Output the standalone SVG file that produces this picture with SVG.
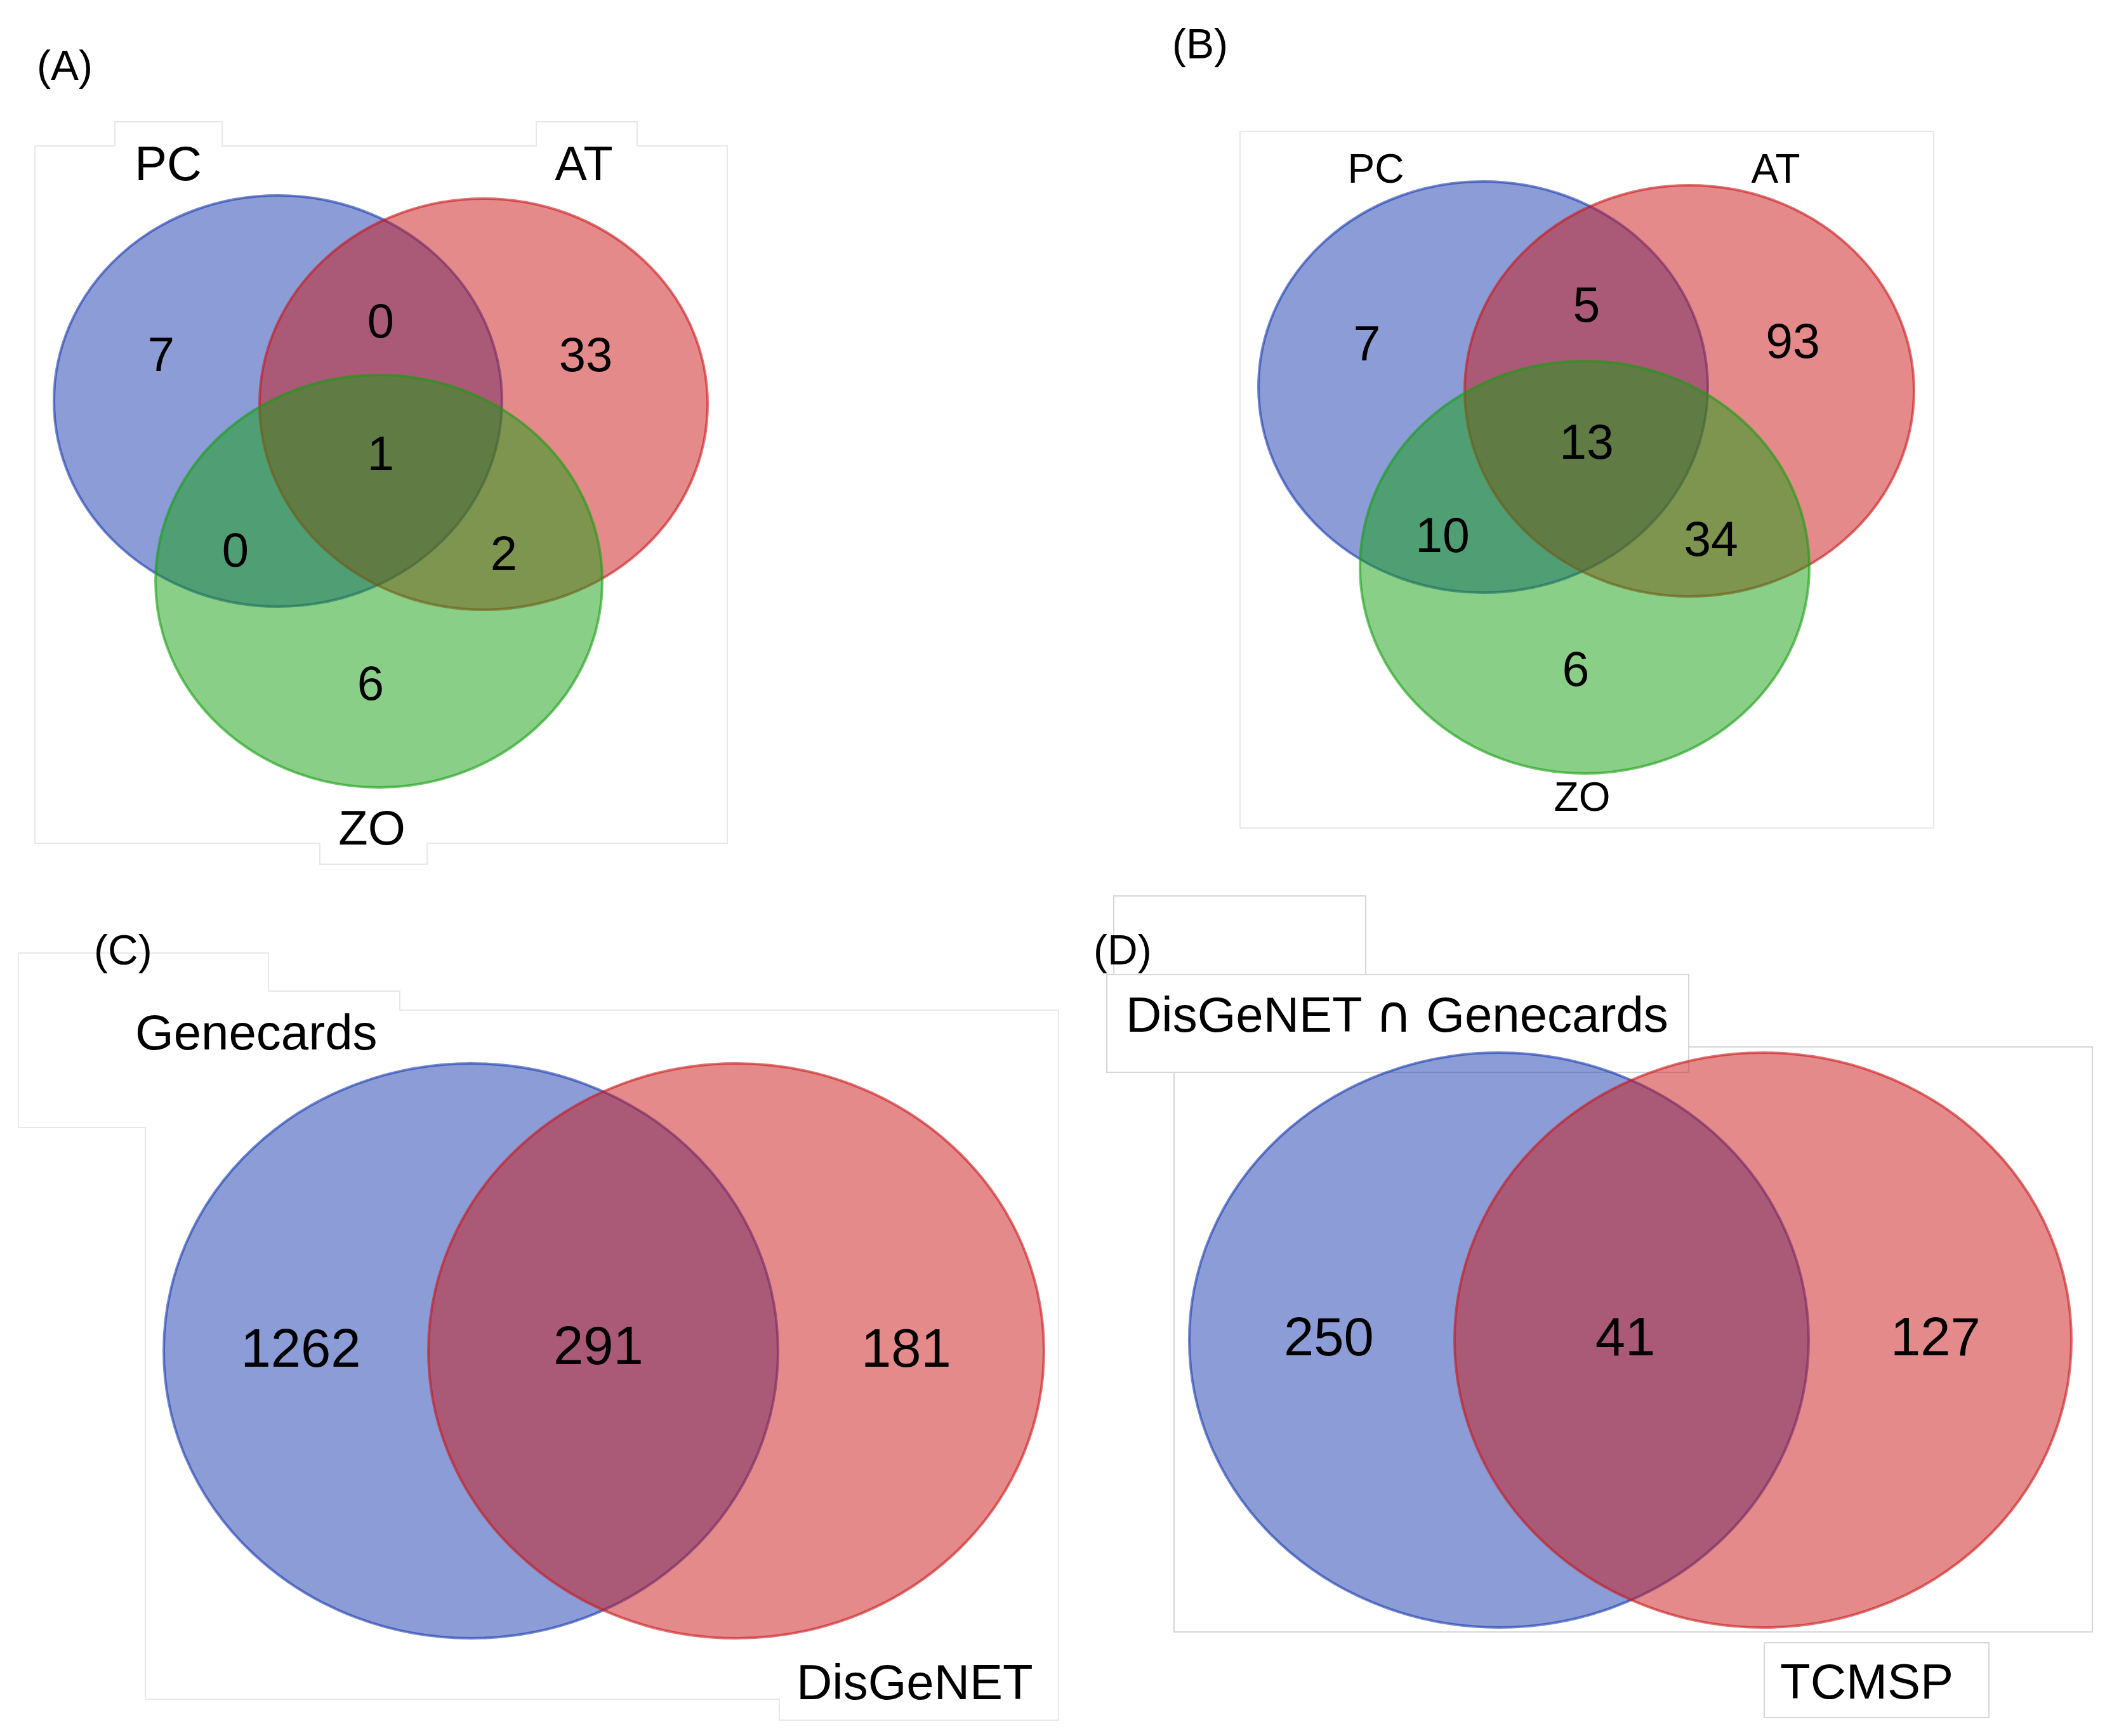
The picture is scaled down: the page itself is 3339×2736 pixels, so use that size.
<svg xmlns="http://www.w3.org/2000/svg" width="3339" height="2736" viewBox="0 0 3339 2736">
<style>
text{font-family:"Liberation Sans",Arial,sans-serif;fill:#000}
.frame{fill:none;stroke:#d6d6d6;stroke-width:2}
.faint{stroke:#e8e8e8}
.b{fill:#1739ad;fill-opacity:.5;stroke:#1739ad;stroke-opacity:.6;stroke-width:4}
.r{fill:#c91517;fill-opacity:.5;stroke:#c91517;stroke-opacity:.6;stroke-width:4}
.g{fill:#159f11;fill-opacity:.5;stroke:#159f11;stroke-opacity:.6;stroke-width:4}
.tag{font-size:66px}
.na{font-size:76px;text-anchor:middle}
.nb{font-size:77px;text-anchor:middle}
.nc{font-size:85px;text-anchor:middle}
.la{font-size:76px;text-anchor:middle}
.lb{font-size:64px;text-anchor:middle}
.lc{font-size:78px}
</style>
<rect width="3339" height="2736" fill="#fff"/>
<g id="frames">
<path class="frame faint" d="M55,230 H181 V192 H350 V230 H845 V192 H1004 V230 H1146 V1329 H673 V1362 H504 V1329 H55 Z"/>
<rect class="frame faint" x="1954" y="207" width="1093" height="1098"/>
<path class="frame faint" d="M29,1502 H423 V1562 H630 V1592 H1668 V2711 H1228 V2678 H229 V1777 H29 Z"/>
<path class="frame" d="M1755,1536 V1412 H2152 V1536"/>
<rect class="frame" x="1744" y="1536" width="917" height="154"/>
<path class="frame" d="M2661,1650 H3297 V2572 H1850 V1690"/>
<rect class="frame" x="2780" y="2589" width="354" height="118"/>
</g>
<g id="panelA">
<text class="tag" x="58" y="126">(A)</text>
<g id="A-PC"><ellipse class="b" cx="438" cy="632" rx="353" ry="324"/></g>
<g id="A-AT"><ellipse class="r" cx="762" cy="637" rx="353" ry="324"/></g>
<g id="A-ZO"><ellipse class="g" cx="597" cy="916" rx="352" ry="325"/></g>
<text class="la" x="265" y="284">PC</text>
<text class="la" x="920" y="284">AT</text>
<text class="la" x="586" y="1331">ZO</text>
<text class="na" x="254" y="585">7</text>
<text class="na" x="600" y="532">0</text>
<text class="na" x="923" y="585">33</text>
<text class="na" x="600" y="741">1</text>
<text class="na" x="371" y="893">0</text>
<text class="na" x="794" y="898">2</text>
<text class="na" x="584" y="1103">6</text>
</g>
<g id="panelB">
<text class="tag" x="1847" y="92">(B)</text>
<g id="B-PC"><ellipse class="b" cx="2337" cy="610" rx="354" ry="324"/></g>
<g id="B-AT"><ellipse class="r" cx="2662" cy="616" rx="354" ry="324"/></g>
<g id="B-ZO"><ellipse class="g" cx="2497" cy="894" rx="354" ry="325"/></g>
<text class="lb" x="2168" y="288">PC</text>
<text class="lb" x="2798" y="288">AT</text>
<text class="lb" x="2493" y="1278">ZO</text>
<text class="nb" x="2154" y="568">7</text>
<text class="nb" x="2500" y="507">5</text>
<text class="nb" x="2825" y="564">93</text>
<text class="nb" x="2500" y="723">13</text>
<text class="nb" x="2273" y="870">10</text>
<text class="nb" x="2696" y="876">34</text>
<text class="nb" x="2483" y="1081">6</text>
</g>
<g id="panelC">
<text class="tag" x="148" y="1520">(C)</text>
<g id="C-Genecards"><ellipse class="b" cx="742" cy="2129" rx="484" ry="453"/></g>
<g id="C-DisGeNET"><ellipse class="r" cx="1160" cy="2129" rx="485" ry="453"/></g>
<text class="lc" x="213" y="1654">Genecards</text>
<text class="lc" x="1255" y="2678">DisGeNET</text>
<text class="nc" x="474" y="2154">1262</text>
<text class="nc" x="943" y="2150">291</text>
<text class="nc" x="1428" y="2154">181</text>
</g>
<g id="panelD">
<text class="tag" x="1723" y="1520">(D)</text>
<g id="D-Intersect"><ellipse class="b" cx="2362" cy="2112" rx="488" ry="453"/></g>
<g id="D-TCMSP"><ellipse class="r" cx="2778" cy="2112" rx="486" ry="453"/></g>
<text class="lc" x="1774" y="1626">DisGeNET <tspan font-family="'DejaVu Sans',sans-serif" font-size="80">∩</tspan> Genecards</text>
<text class="lc" x="2805" y="2677">TCMSP</text>
<text class="nc" x="2094" y="2136">250</text>
<text class="nc" x="2561" y="2136">41</text>
<text class="nc" x="3050" y="2136">127</text>
</g>
<g id="connectors"/>
</svg>
